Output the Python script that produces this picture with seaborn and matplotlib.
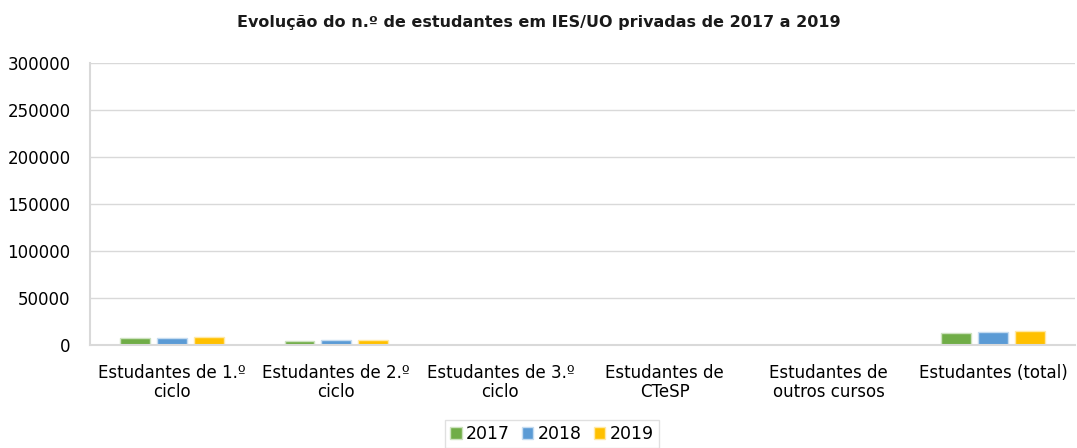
import pandas as pd
import numpy as np
import matplotlib.pyplot as plt
import seaborn as sns

categorias = ["Estudantes de 1.º\nciclo", "Estudantes de 2.º\nciclo", "Estudantes de 3.º\nciclo",
              "Estudantes de\nCTeSP", "Estudantes de\noutros cursos", "Estudantes (total)"]
anos = ["2017", "2018", "2019"]
v2017 = [7300, 4400, 250, 300, 150, 13100]
v2018 = [7600, 5600, 250, 350, 150, 14100]
v2019 = [8500, 5300, 280, 400, 150, 15000]
cores = ["#70AD47", "#5B9BD5", "#FFC000"]

df = pd.DataFrame({
    "categoria": categorias * 3,
    "ano": [a for a in anos for _ in categorias],
    "valor": v2017 + v2018 + v2019,
})

sns.set_theme(style="white")
plt.rcParams["font.family"] = ["DejaVu Sans"]

fig = plt.figure(figsize=(10.77, 4.48), dpi=100)
ax = fig.add_axes([90 / 1077, 1 - 345 / 448, (1075 - 90) / 1077, (345 - 63) / 448])

sns.barplot(data=df, x="categoria", y="valor", hue="ano", palette=cores,
            width=0.675, gap=0.2, ax=ax, saturation=1, linewidth=1)
# lighter outline on each bar, like the original
for patch in ax.patches:
    fc = patch.get_facecolor()
    patch.set_edgecolor(tuple(min(1, c * 0.35 + 0.65) for c in fc[:3]))

ax.set_ylim(0, 300000)
ax.set_yticks(range(0, 300001, 50000))
ax.set_xlim(-0.5, 5.5)
ax.yaxis.grid(True, color="#D9D9D9", linewidth=1)
ax.set_axisbelow(True)
for s in ["top", "right"]:
    ax.spines[s].set_visible(False)
for s in ["left", "bottom"]:
    ax.spines[s].set_color("#D9D9D9")
    ax.spines[s].set_linewidth(1.5)
ax.tick_params(axis="both", length=0, labelsize=12, colors="black")
ax.tick_params(axis="y", pad=14)
ax.tick_params(axis="x", pad=14)
for lab in ax.get_xticklabels():
    lab.set_linespacing(1.05)
ax.set_xlabel("")
ax.set_ylabel("")
fig.text(0.5, 1 - 22 / 448, "Evolução do n.º de estudantes em IES/UO privadas de 2017 a 2019",
         fontsize=11.5, fontweight="bold", ha="center", va="center", color="#1a1a1a")

ax.legend(loc="center", bbox_to_anchor=(552 / 1077, (448 - 434) / 448), bbox_transform=fig.transFigure,
          ncol=3, frameon=True, fontsize=12.5, handlelength=0.65, handleheight=0.65,
          handletextpad=0.25, columnspacing=0.7, borderpad=0.3, fancybox=False,
          edgecolor="#D9D9D9", labelcolor="black")

fig.savefig("out.png", dpi=100)
